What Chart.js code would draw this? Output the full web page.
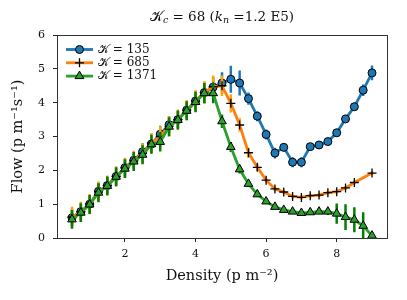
<!DOCTYPE html>
<html>
<head>
<meta charset="utf-8">
<script src="https://cdn.jsdelivr.net/npm/chart.js@4"></script>
<style>
  html, body { margin: 0; padding: 0; background: #fff; }
  #wrap { width: 407px; height: 300px; }
</style>
</head>
<body>
<div id="wrap"><canvas id="flowChart" width="407" height="300"></canvas></div>
<script>
// density steps (p m^-2)
const density = [0.5, 0.75, 1, 1.25, 1.5, 1.75, 2, 2.25, 2.5, 2.75, 3, 3.25, 3.5, 3.75, 4, 4.25, 4.5,
                 4.75, 5, 5.25, 5.5, 5.75, 6, 6.25, 6.5, 6.75, 7, 7.25, 7.5, 7.75, 8, 8.25, 8.5, 8.75, 9]

// flow values for each K
const flow135 = [0.6, 0.78, 1.0, 1.38, 1.55, 1.82, 2.08, 2.3, 2.55, 2.78, 3.07, 3.35, 3.5, 3.78, 4.05, 4.3, 4.46,
                 4.58, 4.69, 4.58, 4.12, 3.6, 3.06, 2.51, 2.68, 2.24, 2.24, 2.7, 2.75, 2.85, 3.11, 3.52, 3.88, 4.37, 4.88]
const flow685 = [0.62, 0.77, 1.0, 1.37, 1.55, 1.82, 2.07, 2.28, 2.5, 2.8, 3.0, 3.3, 3.5, 3.78, 4.05, 4.3, 4.47,
                 4.5, 3.98, 3.34, 2.52, 2.09, 1.71, 1.45, 1.36, 1.23, 1.2, 1.25, 1.27, 1.34, 1.37, 1.48, 1.64, null, 1.92]
const flow1371 = [0.55, 0.75, 0.99, 1.34, 1.54, 1.81, 2.05, 2.26, 2.46, 2.77, 2.84, 3.29, 3.49, 3.76, 4.02, 4.28, 4.28,
                  3.45, 2.69, 2.03, 1.6, 1.29, 1.08, 0.92, 0.83, 0.78, 0.74, 0.76, 0.78, 0.78, 0.72, 0.62, 0.54, 0.36, 0.07]

// error bar half heights
const err135 = [0.25, 0.25, 0.25, 0.25, 0.25, 0.25, 0.25, 0.25, 0.25, 0.25, 0.25, 0.25, 0.25, 0.25, 0.28, 0.3, 0.3,
                0.32, 0.4, 0.37, 0.18, 0.15, 0.15, 0.16, 0.12, 0.15, 0.15, 0.1, 0.1, 0.1, 0.1, 0.12, 0.12, 0.17, 0.22]
const err685 = [0.3, 0.3, 0.3, 0.3, 0.3, 0.3, 0.3, 0.3, 0.3, 0.3, 0.3, 0.3, 0.3, 0.3, 0.32, 0.33, 0.33,
                0.3, 0.27, 0.2, 0.15, 0.1, 0.07, 0.06, 0.06, 0.06, 0.06, 0.06, 0.06, 0.06, 0.06, 0.06, 0.06, 0, 0.06]
const err1371 = [0.28, 0.28, 0.28, 0.28, 0.28, 0.28, 0.28, 0.28, 0.28, 0.28, 0.28, 0.28, 0.28, 0.28, 0.3, 0.3, 0.3,
                 0.2, 0.15, 0.12, 0.08, 0.06, 0.05, 0.05, 0.05, 0.05, 0.05, 0.05, 0.05, 0.1, 0.3, 0.38, 0.37, 0.4, 0.1]

const kLabels = ['135', '685', '1371']
const xTicks = [2, 4, 6, 8]
const yTicks = [0, 1, 2, 3, 4, 5, 6]

const serif = '"DejaVu Serif", "Liberation Serif", serif'
const calK = '\u{1D4A6}'

function pts(vals) {
    return density.map((d, i) => ({ x: d, y: vals[i] }))
}

// draw a row of text pieces, some of them subscript / italic
function richText(ctx, parts, x, y, size, align) {
    let widths = parts.map(p => {
        ctx.font = (p.it ? 'italic ' : '') + (p.sub ? size * 0.7 : size) + 'px ' + serif
        return ctx.measureText(p.t).width
    })
    let total = widths.reduce((a, b) => a + b, 0)
    let cx = align === 'center' ? x - total / 2 : x
    parts.forEach((p, i) => {
        ctx.font = (p.it ? 'italic ' : '') + (p.sub ? size * 0.7 : size) + 'px ' + serif
        ctx.fillText(p.t, cx, y + (p.sub ? size * 0.25 : 0))
        cx += widths[i]
    })
}

const decor = {
    id: 'decor',
    beforeDatasetDraw(chart, args) {
        const ds = chart.data.datasets[args.index]
        const meta = chart.getDatasetMeta(args.index)
        const ys = chart.scales.y
        const area = chart.chartArea
        const ctx = chart.ctx
        ctx.save()
        ctx.beginPath()
        ctx.rect(area.left, area.top, area.right - area.left, area.bottom - area.top)
        ctx.clip()
        ctx.strokeStyle = ds.errColor
        ctx.lineWidth = 2.5
        ctx.beginPath()
        meta.data.forEach((pt, j) => {
            const v = ds.data[j].y
            const e = ds.errors[j]
            if (v == null || !e) return
            ctx.moveTo(pt.x, ys.getPixelForValue(v - e))
            ctx.lineTo(pt.x, ys.getPixelForValue(v + e))
        })
        ctx.stroke()
        ctx.restore()
    },
    afterDraw(chart) {
        const ctx = chart.ctx
        const a = chart.chartArea
        ctx.save()
        // frame
        ctx.strokeStyle = '#333'
        ctx.lineWidth = 1
        ctx.strokeRect(Math.round(a.left) + 0.5, Math.round(a.top) + 0.5,
                       Math.round(a.right - a.left), Math.round(a.bottom - a.top))

        ctx.fillStyle = '#111'
        ctx.textBaseline = 'middle'
        // title
        richText(ctx, [
            { t: calK }, { t: 'c', it: true, sub: true }, { t: ' = 68 (' },
            { t: 'k', it: true }, { t: 'n', it: true, sub: true }, { t: ' =1.2 E5)' }
        ], (a.left + a.right) / 2, 17, 13.5, 'center')

        // axis titles
        ctx.font = '14.5px ' + serif
        ctx.textAlign = 'center'
        ctx.fillText('Density (p m\u207B\u00B2)', (a.left + a.right) / 2, 276)
        ctx.save()
        ctx.translate(18, (a.top + a.bottom) / 2)
        ctx.rotate(-Math.PI / 2)
        ctx.fillText('Flow (p m\u207B\u00B9s\u207B\u00B9)', 0, 0)
        ctx.restore()

        // legend
        ctx.textAlign = 'left'
        chart.data.datasets.forEach((ds, i) => {
            const y = 49.5 + i * 13.3
            ctx.strokeStyle = ds.borderColor
            ctx.lineWidth = 2.8
            ctx.beginPath()
            ctx.moveTo(66, y)
            ctx.lineTo(93, y)
            ctx.stroke()
            ctx.strokeStyle = ds.pointBorderColor
            ctx.fillStyle = ds.pointBackgroundColor
            ctx.lineWidth = ds.pointBorderWidth
            Chart.helpers.drawPoint(ctx, { pointStyle: ds.pointStyle, radius: ds.pointRadius, borderWidth: ds.pointBorderWidth }, 79.5, y)
            ctx.fillStyle = '#111'
            richText(ctx, [{ t: calK }, { t: ' = ' + kLabels[i] }], 98, y, 12, 'left')
        })
        ctx.restore()
    }
}

const ctx = document.getElementById('flowChart').getContext('2d')
const flowChart = new Chart(ctx, {
    type: 'line',
    data: {
        datasets: [
            {
                label: 'K = ' + kLabels[0], data: pts(flow135), errors: err135, errColor: '#1f77b4',
                borderColor: '#1f77b4', borderWidth: 2.8, pointStyle: 'circle', pointRadius: 4,
                pointBackgroundColor: '#1f77b4', pointBorderColor: '#000', pointBorderWidth: 1, order: 2
            },
            {
                label: 'K = ' + kLabels[1], data: pts(flow685), errors: err685, errColor: '#ffa500',
                borderColor: '#ff7f0e', borderWidth: 2.8, pointStyle: 'cross', pointRadius: 4.5,
                pointBackgroundColor: '#000', pointBorderColor: '#000', pointBorderWidth: 1.3, order: 1,
                spanGaps: true
            },
            {
                label: 'K = ' + kLabels[2], data: pts(flow1371), errors: err1371, errColor: '#008000',
                borderColor: '#2ca02c', borderWidth: 2.8, pointStyle: 'triangle', pointRadius: 5,
                pointBackgroundColor: '#2ca02c', pointBorderColor: '#000', pointBorderWidth: 1, order: 0
            }
        ]
    },
    options: {
        responsive: false,
        animation: false,
        events: [],
        layout: { padding: { left: 0, right: 20, top: 35, bottom: 0 } },
        plugins: { legend: { display: false }, tooltip: { enabled: false }, title: { display: false } },
        elements: { line: { tension: 0 } },
        scales: {
            x: {
                type: 'linear', min: 0.075, max: 9.425,
                afterFit: s => { s.height = 62 },
                afterBuildTicks: s => { s.ticks = xTicks.map(v => ({ value: v })) },
                border: { display: false },
                grid: { drawOnChartArea: false, drawTicks: true, tickLength: 4, tickColor: '#222', tickWidth: 1 },
                ticks: { color: '#111', font: { family: serif, size: 11 }, padding: 6, maxRotation: 0 }
            },
            y: {
                type: 'linear', min: 0, max: 6,
                afterFit: s => { s.width = 57 },
                afterBuildTicks: s => { s.ticks = yTicks.map(v => ({ value: v })) },
                border: { display: false },
                grid: { drawOnChartArea: false, drawTicks: true, tickLength: 4, tickColor: '#222', tickWidth: 1 },
                ticks: { color: '#111', font: { family: serif, size: 11 }, padding: 8 }
            }
        }
    },
    plugins: [decor]
})
</script>
</body>
</html>
